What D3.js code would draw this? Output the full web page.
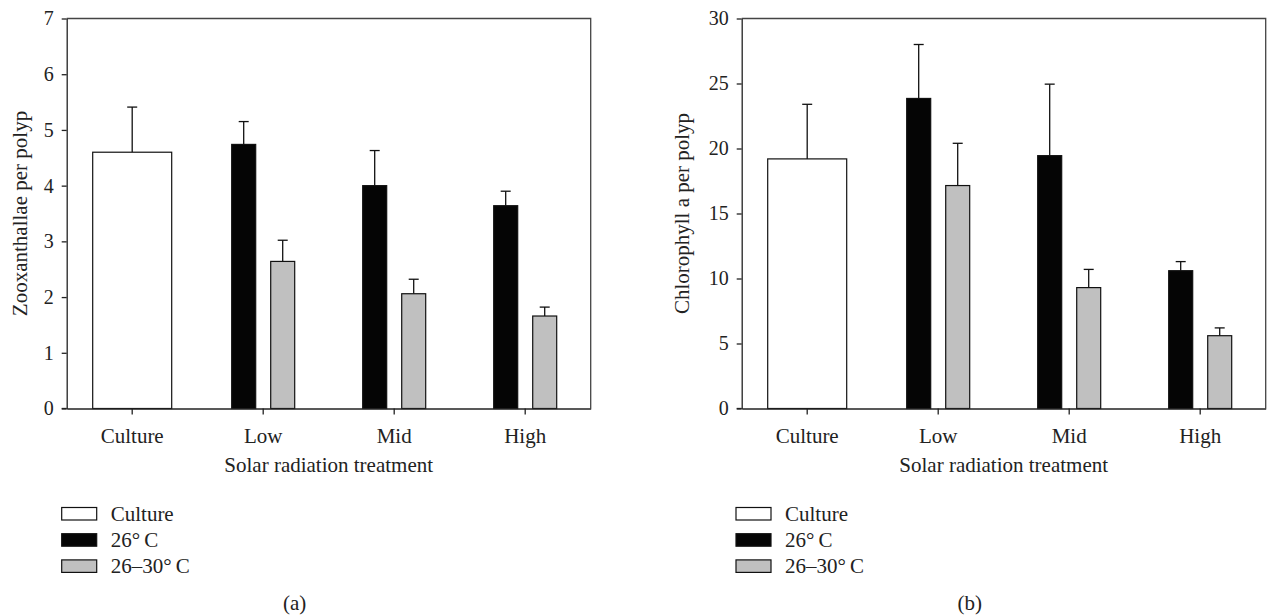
<!DOCTYPE html>
<html>
<head>
<meta charset="utf-8">
<script src="https://cdn.jsdelivr.net/npm/d3@7"></script>
<style>
  html, body { margin: 0; padding: 0; background: #fff; }
  svg { display: block; font-family: "Liberation Serif", "DejaVu Serif", serif; }
</style>
</head>
<body>
<svg id="chart" width="1269" height="615"></svg>
<script>
// ---- data ----
const categories = ["Culture", "Low", "Mid", "High"];
const treatments = ["Low", "Mid", "High"];
const seriesNames = ["26°\u2009C", "26–30°\u2009C"];
const legendLabels = ["Culture", "26°\u2009C", "26–30°\u2009C"];

// panel (a) Zooxanthellae per polyp
const zooxCulture = 4.60, zooxCultureSE = 0.81;
const zoox26 = [4.74, 4.00, 3.64];
const zoox26SE = [0.41, 0.63, 0.26];
const zoox2630 = [2.64, 2.06, 1.66];
const zoox2630SE = [0.38, 0.26, 0.16];
const zooxTicks = [0, 1, 2, 3, 4, 5, 6, 7];

// panel (b) Chlorophyll a per polyp
const chlCulture = 19.2, chlCultureSE = 4.2;
const chl26 = [23.85, 19.45, 10.6];
const chl26SE = [4.15, 5.5, 0.7];
const chl2630 = [17.15, 9.3, 5.6];
const chl2630SE = [3.25, 1.4, 0.6];
const chlTicks = [0, 5, 10, 15, 20, 25, 30];

const fills = { "Culture": "#ffffff" };
fills[seriesNames[0]] = "#050505";
fills[seriesNames[1]] = "#c0c0c0";

const svg = d3.select("#chart");

function panel(cfg) {
  const W = 524, top = 18.5, bottom = 408.5;
  const g = svg.append("g").attr("transform", `translate(${cfg.left},0)`);
  const x = d3.scaleBand().domain(categories).range([0, W]).padding(0);
  const xs = d3.scaleBand().domain(seriesNames).range([-31.5, 31.5]).paddingInner(0.385).paddingOuter(0);
  const y = d3.scaleLinear().domain([0, cfg.max]).range([bottom, top]);
  const cultureW = 79;

  // frame (top & right)
  g.append("path")
    .attr("d", `M0,${top}H${W}V${bottom}`)
    .attr("fill", "none").attr("stroke", "#444").attr("stroke-width", 1.3);

  const cx = x("Culture") + x.bandwidth() / 2;
  const bars = [{ cat: "Culture", s: "Culture", v: cfg.culture, se: cfg.cultureSE, x0: cx - cultureW / 2, w: cultureW }];
  treatments.forEach((t, i) => {
    const c = x(t) + x.bandwidth() / 2;
    bars.push({ cat: t, s: seriesNames[0], v: cfg.s1[i], se: cfg.s1SE[i], x0: c + xs(seriesNames[0]), w: xs.bandwidth() });
    bars.push({ cat: t, s: seriesNames[1], v: cfg.s2[i], se: cfg.s2SE[i], x0: c + xs(seriesNames[1]), w: xs.bandwidth() });
  });

  // error bars
  const eb = g.append("g").attr("stroke", "#111").attr("stroke-width", 1.3);
  bars.forEach(b => {
    const mx = b.x0 + b.w / 2;
    eb.append("line").attr("x1", mx).attr("x2", mx).attr("y1", y(b.v)).attr("y2", y(b.v + b.se));
    eb.append("line").attr("x1", mx - 5).attr("x2", mx + 5).attr("y1", y(b.v + b.se)).attr("y2", y(b.v + b.se));
  });

  g.append("g").selectAll("rect").data(bars).join("rect")
    .attr("x", d => d.x0).attr("width", d => d.w)
    .attr("y", d => y(d.v)).attr("height", d => y(0) - y(d.v))
    .attr("fill", d => fills[d.s]).attr("stroke", "#111").attr("stroke-width", 1.2);

  // axes
  const yAxis = g.append("g")
    .call(d3.axisLeft(y).tickValues(cfg.ticks).tickFormat(d3.format("d")).tickSize(5).tickSizeOuter(0).tickPadding(8));
  const xAxis = g.append("g").attr("transform", `translate(0,${bottom})`)
    .call(d3.axisBottom(x).tickSize(6).tickSizeOuter(0).tickPadding(9));
  [yAxis, xAxis].forEach(a => {
    a.attr("font-family", null);
    a.select(".domain").attr("stroke", "#222").attr("stroke-width", 1.3);
    a.selectAll(".tick line").attr("stroke", "#222").attr("stroke-width", 1.3);
    a.selectAll("text").attr("fill", "#222");
  });
  yAxis.selectAll("text").attr("font-size", 20);
  xAxis.selectAll("text").attr("font-size", 21).attr("dy", "0.95em");
  g.append("line").attr("x1", -5).attr("x2", 0).attr("y1", bottom).attr("y2", bottom)
    .attr("stroke", "#222").attr("stroke-width", 1.3);

  // axis titles
  g.append("text").attr("transform", `translate(${cfg.ylabX},${(top + bottom) / 2}) rotate(-90)`)
    .attr("text-anchor", "middle").attr("font-size", 21).attr("fill", "#222").text(cfg.ylabel);
  g.append("text").attr("x", W / 2).attr("y", 471.5)
    .attr("text-anchor", "middle").attr("font-size", 21).attr("fill", "#222").text("Solar radiation treatment");

  // legend
  const lg = g.append("g").attr("transform", `translate(${cfg.legX},507.5)`);
  legendLabels.forEach((l, i) => {
    lg.append("rect").attr("x", 0).attr("y", i * 26.2).attr("width", 35).attr("height", 12.5)
      .attr("fill", fills[l]).attr("stroke", "#111").attr("stroke-width", 1.2);
    lg.append("text").attr("x", 49).attr("y", i * 26.2 + 13.3).attr("font-size", 21).attr("fill", "#222").text(l);
  });

  // panel label
  g.append("text").attr("x", W / 2 - 34).attr("y", 609.5)
    .attr("text-anchor", "middle").attr("font-size", 21).attr("fill", "#222").text(cfg.tag);
}

panel({ left: 66.7, max: 7, ticks: zooxTicks, culture: zooxCulture, cultureSE: zooxCultureSE,
  s1: zoox26, s1SE: zoox26SE, s2: zoox2630, s2SE: zoox2630SE,
  ylabel: "Zooxanthallae per polyp", ylabX: -40, legX: -5, tag: "(a)" });
panel({ left: 741.7, max: 30, ticks: chlTicks, culture: chlCulture, cultureSE: chlCultureSE,
  s1: chl26, s1SE: chl26SE, s2: chl2630, s2SE: chl2630SE,
  ylabel: "Chlorophyll a per polyp", ylabX: -53, legX: -5.7, tag: "(b)" });
</script>
</body>
</html>
